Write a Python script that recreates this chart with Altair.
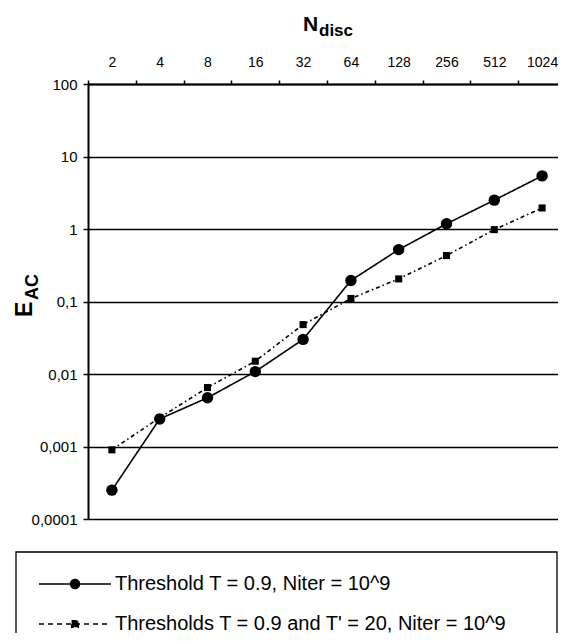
import altair as alt
import pandas as pd

# ---- data ----
N_DISC = [2, 4, 8, 16, 32, 64, 128, 256, 512, 1024]
E_SINGLE = [0.00025, 0.0024, 0.0047, 0.0108, 0.030, 0.195, 0.52, 1.18, 2.5, 5.4]
E_DOUBLE = [0.0009, 0.0025, 0.0065, 0.015, 0.048, 0.11, 0.205, 0.43, 0.98, 1.95]
SERIES = ["Threshold T = 0.9, Niter = 10^9",
          "Thresholds T = 0.9 and T' = 20, Niter = 10^9"]
Y_TICKS = [0.0001, 0.001, 0.01, 0.1, 1, 10, 100]
X_TITLE = ["N", "disc"]
Y_TITLE = ["E", "AC"]

FONT = "Liberation Sans"

rows = []
for n, a, b in zip(N_DISC, E_SINGLE, E_DOUBLE):
    rows.append({"N": n, "E": a, "series": SERIES[0]})
    rows.append({"N": n, "E": b, "series": SERIES[1]})
df = pd.DataFrame(rows)

# ---- layout ----
W, H = 470, 435
STEP = 47.8
x_lo = 2 ** 0.5
x_hi = 2 ** (0.5 + W / STEP)

x_enc = alt.X(
    "N:Q",
    scale=alt.Scale(type="log", base=2, domain=[x_lo, x_hi], nice=False),
    axis=alt.Axis(orient="top", values=N_DISC, labelExpr="format(datum.value, 'd')",
                  tickOffset=-STEP / 2, labelOffset=STEP / 2, grid=False, title=None,
                  labelOverlap=False, tickSize=4, labelPadding=11, labelFontSize=14),
)
y_enc = alt.Y(
    "E:Q",
    scale=alt.Scale(type="log", domain=[Y_TICKS[0], Y_TICKS[-1]], nice=False),
    axis=alt.Axis(values=Y_TICKS,
                  labelExpr="replace(format(datum.value, '.4~f'), '.', ',')",
                  grid=True, title=None, labelOverlap=False, tickSize=5, labelPadding=6,
                  labelFontSize=15),
)

base = alt.Chart(df).encode(x=x_enc, y=y_enc)

lines = base.mark_line(color="black", strokeWidth=1.6).encode(
    strokeDash=alt.StrokeDash("series:N",
                              scale=alt.Scale(domain=SERIES, range=[[1, 0], [4, 3, 1.5, 3]]),
                              legend=None)
)
points = base.mark_point(filled=True, color="black", opacity=1).encode(
    shape=alt.Shape("series:N", scale=alt.Scale(domain=SERIES, range=["circle", "square"]),
                    legend=None),
    size=alt.Size("series:N", scale=alt.Scale(domain=SERIES, range=[130, 50]), legend=None),
)

PATH_CIRCLE = "M-1,0L7,0M3.5,0A0.5,0.5,0,1,1,2.5,0A0.5,0.5,0,1,1,3.5,0Z"
PATH_SQUARE = "M-1,0L7,0M2.63,-0.37L3.37,-0.37L3.37,0.37L2.63,0.37Z"

legend_layer = alt.Chart(df).mark_point(
    filled=True, fill="black", stroke="black", strokeWidth=1.5, opacity=1, clip=True
).encode(
    x=alt.X("N:Q"),
    y=alt.value(-3000),
    shape=alt.Shape("series:N",
                    scale=alt.Scale(domain=SERIES, range=[PATH_CIRCLE, PATH_SQUARE]),
                    legend=alt.Legend(title=None)),
    strokeDash=alt.StrokeDash("series:N",
                              scale=alt.Scale(domain=SERIES, range=[[1, 0], [5, 4]]),
                              legend=alt.Legend(title=None)),
)

# frame around the legend (decoration)
legend_box = alt.Chart(pd.DataFrame({"k": [0]})).mark_rect(
    fillOpacity=0, stroke="black", strokeWidth=1.3
).encode(x=alt.value(-72), x2=alt.value(469), y=alt.value(468), y2=alt.value(570))

t_n = alt.Chart(pd.DataFrame({"t": [X_TITLE[0]]})).mark_text(
    font=FONT, fontSize=21, fontWeight="bold", align="left", baseline="alphabetic", color="black"
).encode(text="t:N", x=alt.value(215), y=alt.value(-53))
t_disc = alt.Chart(pd.DataFrame({"t": [X_TITLE[1]]})).mark_text(
    font=FONT, fontSize=17, fontWeight="bold", align="left", baseline="alphabetic", color="black"
).encode(text="t:N", x=alt.value(231), y=alt.value(-48))
t_e = alt.Chart(pd.DataFrame({"t": [Y_TITLE[0]]})).mark_text(
    font=FONT, fontSize=23, fontWeight="bold", align="left", baseline="alphabetic",
    angle=270, color="black"
).encode(text="t:N", x=alt.value(-56), y=alt.value(233))
t_ac = alt.Chart(pd.DataFrame({"t": [Y_TITLE[1]]})).mark_text(
    font=FONT, fontSize=18, fontWeight="bold", align="left", baseline="alphabetic",
    angle=270, color="black"
).encode(text="t:N", x=alt.value(-50), y=alt.value(216))

chart = alt.layer(lines, points, legend_layer, legend_box, t_n, t_disc, t_e, t_ac).resolve_scale(
    shape="independent", strokeDash="independent", size="independent"
).properties(
    width=W, height=H,
    autosize=alt.AutoSizeParams(type="none"),
    padding={"left": 80, "top": 76, "right": 0, "bottom": 114},
    background="white",
).configure_view(stroke=None).configure_axis(
    domainColor="black", domainWidth=2, tickColor="black", tickWidth=1.5,
    gridColor="black", gridWidth=1.5, gridOpacity=1,
    labelFont=FONT, labelColor="black",
).configure_legend(
    orient="none", legendX=-72, legendY=468,
    padding=22, rowPadding=20,
    labelFont=FONT, labelFontSize=20, labelColor="black", labelLimit=0,
    labelOffset=57, symbolSize=324, symbolStrokeWidth=1.5,
)

chart.save("out.html", embed_options={"renderer": "svg", "actions": False})
